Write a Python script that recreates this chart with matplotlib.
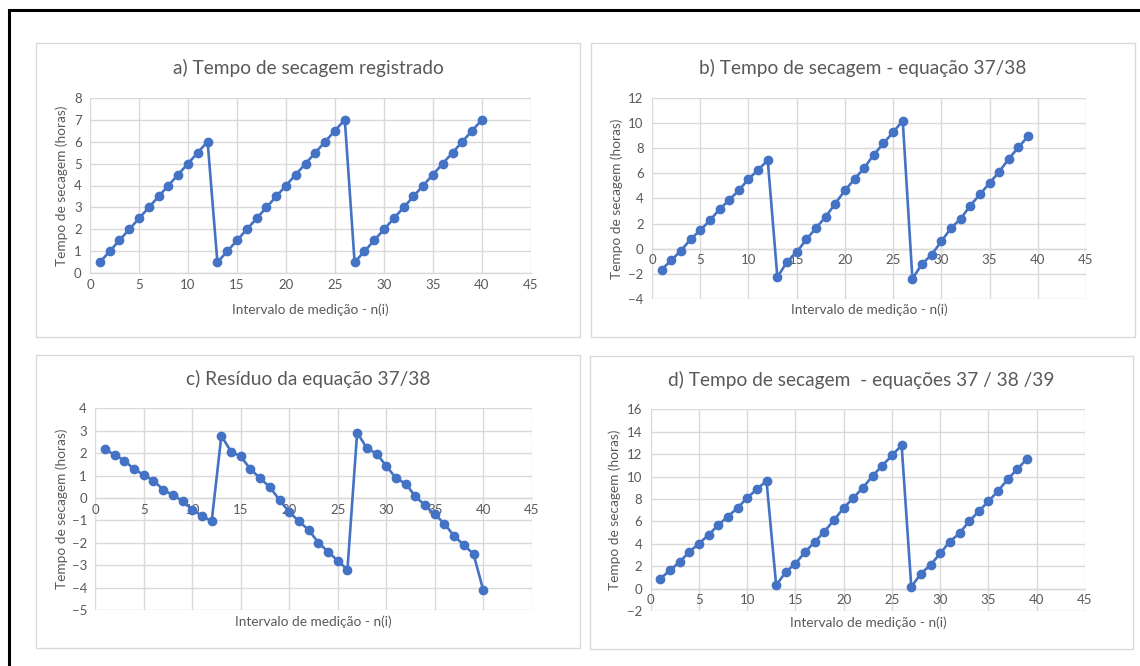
import matplotlib
matplotlib.use("Agg")
import matplotlib.pyplot as plt
from matplotlib.patches import Rectangle

plt.rcParams['font.family'] = ['Lato', 'DejaVu Sans']

# ---------------- data ----------------
n_a = list(range(1, 41))
tempo_registrado = [0.5, 1.0, 1.5, 2.0, 2.5, 3.0, 3.5, 4.0, 4.5, 5.0, 5.5, 6.0,
                    0.5, 1.0, 1.5, 2.0, 2.5, 3.0, 3.5, 4.0, 4.5, 5.0, 5.5, 6.0, 6.5, 7.0,
                    0.5, 1.0, 1.5, 2.0, 2.5, 3.0, 3.5, 4.0, 4.5, 5.0, 5.5, 6.0, 6.5, 7.0]

n_b = list(range(1, 40))
tempo_eq3738 = [-1.66, -0.92, -0.16, 0.74, 1.47, 2.24, 3.13, 3.87, 4.63, 5.53, 6.26, 7.03,
                -2.26, -1.05, -0.29, 0.74, 1.63, 2.53, 3.58, 4.63, 5.53, 6.42, 7.47, 8.37, 9.26, 10.16,
                -2.39, -1.21, -0.47, 0.58, 1.63, 2.37, 3.42, 4.32, 5.21, 6.11, 7.16, 8.05, 8.95]

n_c = list(range(1, 41))
residuo_eq3738 = [2.17, 1.92, 1.67, 1.28, 1.03, 0.77, 0.37, 0.12, -0.13, -0.52, -0.80, -1.04,
                  2.77, 2.07, 1.85, 1.28, 0.88, 0.48, -0.09, -0.63, -1.04, -1.43, -1.99, -2.40, -2.80, -3.20,
                  2.92, 2.22, 1.98, 1.43, 0.88, 0.64, 0.07, -0.33, -0.73, -1.15, -1.70, -2.10, -2.50, -4.11]

n_d = list(range(1, 40))
tempo_eq373839 = [0.89, 1.64, 2.38, 3.27, 4.02, 4.79, 5.68, 6.43, 7.20, 8.10, 8.87, 9.61,
                  0.30, 1.49, 2.23, 3.27, 4.17, 5.09, 6.13, 7.20, 8.10, 9.02, 10.06, 10.98, 11.88, 12.80,
                  0.15, 1.34, 2.11, 3.15, 4.20, 4.94, 6.01, 6.90, 7.80, 8.72, 9.76, 10.68, 11.58]

titles = ["a) Tempo de secagem registrado",
          "b) Tempo de secagem - equação 37/38",
          "c) Resíduo da equação 37/38",
          "d) Tempo de secagem  - equações 37 / 38 /39"]
xlabel = "Intervalo de medição - n(i)"
ylabel = "Tempo de secagem (horas)"

x_ticks = [0, 5, 10, 15, 20, 25, 30, 35, 40, 45]
y_ticks_a = [0, 1, 2, 3, 4, 5, 6, 7, 8]
y_ticks_b = [-4, -2, 0, 2, 4, 6, 8, 10, 12]
y_ticks_c = [-5, -4, -3, -2, -1, 0, 1, 2, 3, 4]
y_ticks_d = [-2, 0, 2, 4, 6, 8, 10, 12, 14, 16]

# ---------------- figure ----------------
W, H = 1140, 666
fig = plt.figure(figsize=(W / 100, H / 100), dpi=100)
fig.patch.set_facecolor('white')

def fbox(x0, y0, x1, y1):
    return [x0 / W, 1 - y1 / H, (x1 - x0) / W, (y1 - y0) / H]

# outer black frame
fig.add_artist(Rectangle((9 / W, -0.05), 1.2, 1 - 10 / H + 0.05, transform=fig.transFigure,
                         fill=False, edgecolor='black', linewidth=2.2))

# panel boxes
panel_boxes = [(36, 43, 580, 337), (591, 43, 1135, 337), (36, 355, 580, 648), (590, 356, 1133, 649)]
for (x0, y0, x1, y1) in panel_boxes:
    fig.add_artist(Rectangle((x0 / W, 1 - y1 / H), (x1 - x0) / W, (y1 - y0) / H,
                             transform=fig.transFigure, fill=False,
                             edgecolor='#d9d9d9', linewidth=1.0))

axes_px = [(90, 97.7, 531, 273.3), (652, 97.7, 1086, 299),
           (95.3, 408.3, 531.7, 610), (650.7, 409.3, 1085, 611)]
datasets = [(n_a, tempo_registrado, y_ticks_a),
            (n_b, tempo_eq3738, y_ticks_b),
            (n_c, residuo_eq3738, y_ticks_c),
            (n_d, tempo_eq373839, y_ticks_d)]
title_y = [68, 68, 379, 380]
xlabel_y = [310, 310, 622, 623]
ylabel_x = [62, 617, 62, 615]

blue = '#4472C4'
gray_txt = '#595959'
grid_c = '#d9d9d9'

for i, (px, (xs, ys, yt)) in enumerate(zip(axes_px, datasets)):
    ax = fig.add_axes(fbox(*px))
    ax.set_axisbelow(True)
    ax.plot(xs, ys, color=blue, linewidth=1.9, marker='o', markersize=6.0,
            markerfacecolor=blue, markeredgecolor=blue, zorder=3, clip_on=False)
    ax.set_xlim(0, 45)
    ax.set_ylim(yt[0], yt[-1])
    ax.set_xticks(x_ticks)
    ax.set_yticks(yt)
    ax.grid(True, color=grid_c, linewidth=1.0)
    for s in ['top', 'right', 'left']:
        ax.spines[s].set_visible(False)
    ax.spines['bottom'].set_position(('data', 0))
    ax.spines['bottom'].set_color(grid_c)
    ax.spines['bottom'].set_linewidth(1.0)
    ax.tick_params(axis='both', length=0, labelsize=9.5, labelcolor=gray_txt, pad=4)
    ax.tick_params(axis='y', pad=6)

    x0, y0, x1, y1 = panel_boxes[i]
    fig.text((x0 + x1) / 2 / W, 1 - title_y[i] / H, titles[i], ha='center', va='center',
             fontsize=13.8, color=gray_txt)
    fig.text((px[0] + px[2]) / 2 / W, 1 - xlabel_y[i] / H, xlabel, ha='center', va='center',
             fontsize=9.8, color=gray_txt)
    fig.text(ylabel_x[i] / W, 1 - (px[1] + px[3]) / 2 / H, ylabel, ha='center', va='center',
             rotation=90, fontsize=9.8, color=gray_txt)

fig.savefig('out.png', dpi=100)
